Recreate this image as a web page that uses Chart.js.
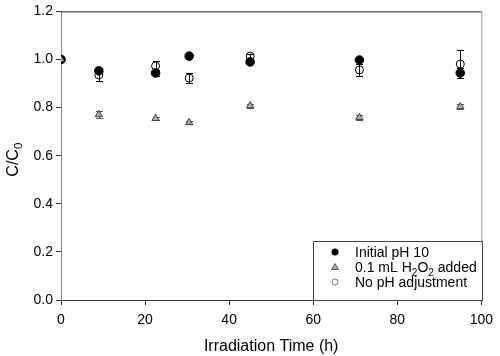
<!DOCTYPE html>
<html>
<head>
<meta charset="utf-8">
<script src="https://cdn.jsdelivr.net/npm/chart.js@4/dist/chart.umd.min.js"></script>
<style>
  body { margin: 0; background: #fff; }
  canvas { display: block; }
</style>
</head>
<body>
<canvas id="grafico" width="500" height="356"></canvas>
<script>
// ========== dados ==========
const tempos = [0, 9, 22.5, 30.5, 45, 71, 95];

const phInicial = [1.0, 0.953, 0.944, 1.014, 0.99, 0.998, 0.944];
const phInicialErro = [0, 0.006, 0.012, 0.006, 0.008, 0.01, 0.02];

const peroxido = [1.0, 0.771, 0.755, 0.738, 0.808, 0.759, 0.804];
const peroxidoErro = [0, 0.015, 0.006, 0.006, 0.008, 0.012, 0.01];

const semAjuste = [1.0, 0.936, 0.973, 0.923, 1.014, 0.957, 0.981];
const semAjusteErro = [0, 0.025, 0.02, 0.022, 0.01, 0.025, 0.058];

const ticksX = [0, 20, 40, 60, 80, 100];
const ticksY = [0, 0.2, 0.4, 0.6, 0.8, 1.0, 1.2];

function pontos(valores) {
  return tempos.map((t, i) => ({ x: t, y: valores[i] }));
}

// texto com subscrito: partes [texto, subscrito?]
function textoSub(ctx, partes, x, y, tam) {
  let cx = x;
  partes.forEach(([t, sub]) => {
    ctx.font = (sub ? tam * 0.72 : tam) + "px 'Liberation Sans', Arial, sans-serif";
    ctx.fillText(t, cx, sub ? y + tam * 0.28 : y);
    cx += ctx.measureText(t).width;
  });
  return cx - x;
}

function larguraSub(ctx, partes, tam) {
  let w = 0;
  partes.forEach(([t, sub]) => {
    ctx.font = (sub ? tam * 0.72 : tam) + "px 'Liberation Sans', Arial, sans-serif";
    w += ctx.measureText(t).width;
  });
  return w;
}

// ========== barras de erro ==========
const barrasErro = {
  id: "barrasErro",
  beforeDatasetsDraw(chart) {
    const ctx = chart.ctx;
    const sx = chart.scales.x;
    const sy = chart.scales.y;
    const series = [
      [phInicial, phInicialErro, "#000"],
      [peroxido, peroxidoErro, "#555"],
      [semAjuste, semAjusteErro, "#000"],
    ];
    ctx.save();
    ctx.lineWidth = 1;
    series.forEach(([vals, errs, cor]) => {
      ctx.strokeStyle = cor;
      vals.forEach((v, i) => {
        if (!errs[i]) return;
        const px = Math.round(sx.getPixelForValue(tempos[i])) + 0.5;
        const y1 = sy.getPixelForValue(v - errs[i]);
        const y2 = sy.getPixelForValue(v + errs[i]);
        ctx.beginPath();
        ctx.moveTo(px, y1);
        ctx.lineTo(px, y2);
        ctx.moveTo(px - 3.5, Math.round(y1) + 0.5);
        ctx.lineTo(px + 3.5, Math.round(y1) + 0.5);
        ctx.moveTo(px - 3.5, Math.round(y2) + 0.5);
        ctx.lineTo(px + 3.5, Math.round(y2) + 0.5);
        ctx.stroke();
      });
    });
    ctx.restore();
  },
};

// ========== moldura, titulos e legenda ==========
const moldura = {
  id: "moldura",
  afterDraw(chart) {
    const ctx = chart.ctx;
    const a = chart.chartArea;
    ctx.save();
    ctx.lineWidth = 1;
    ctx.strokeStyle = "#222";
    ctx.beginPath();
    ctx.moveTo(a.left, a.top + 0.5);
    ctx.lineTo(a.right, a.top + 0.5);
    ctx.stroke();
    ctx.strokeStyle = "#999";
    ctx.beginPath();
    ctx.moveTo(a.right + 0.5, a.top);
    ctx.lineTo(a.right + 0.5, a.bottom);
    ctx.stroke();

    ctx.fillStyle = "#000";
    ctx.textBaseline = "alphabetic";

    // titulo x
    ctx.font = "16px 'Liberation Sans', Arial, sans-serif";
    ctx.textAlign = "center";
    ctx.fillText("Irradiation Time (h)", (a.left + a.right) / 2, 351);

    // titulo y
    ctx.textAlign = "left";
    const partesY = [["C/C", false], ["0", true]];
    const wY = larguraSub(ctx, partesY, 16);
    ctx.save();
    ctx.translate(18, (a.top + a.bottom) / 2 + wY / 2 + 4);
    ctx.rotate(-Math.PI / 2);
    textoSub(ctx, partesY, 0, 0, 16);
    ctx.restore();

    // legenda
    const lx = 313, ly = 241, lw = 169, lh = 59;
    ctx.fillStyle = "#fff";
    ctx.fillRect(lx, ly, lw, lh);
    ctx.strokeStyle = "#444";
    ctx.strokeRect(lx + 0.5, ly + 0.5, lw, lh);

    const linhas = [
      { y: 252, partes: [["Initial pH 10", false]], tipo: "pretoCirc" },
      { y: 267, partes: [["0.1 mL H", false], ["2", true], ["O", false], ["2", true], [" added", false]], tipo: "tri" },
      { y: 282, partes: [["No pH adjustment", false]], tipo: "abertoCirc" },
    ];
    linhas.forEach((l) => {
      const mx = 335;
      ctx.lineWidth = 1;
      if (l.tipo === "pretoCirc") {
        ctx.fillStyle = "#000";
        ctx.beginPath();
        ctx.arc(mx, l.y, 3.5, 0, Math.PI * 2);
        ctx.fill();
      } else if (l.tipo === "tri") {
        ctx.fillStyle = "#aaa";
        ctx.strokeStyle = "#555";
        ctx.beginPath();
        ctx.moveTo(mx, l.y - 3.5);
        ctx.lineTo(mx + 3.5, l.y + 2.5);
        ctx.lineTo(mx - 3.5, l.y + 2.5);
        ctx.closePath();
        ctx.fill();
        ctx.stroke();
      } else {
        ctx.strokeStyle = "#777";
        ctx.beginPath();
        ctx.arc(mx, l.y, 3, 0, Math.PI * 2);
        ctx.stroke();
      }
      ctx.fillStyle = "#000";
      ctx.textAlign = "left";
      textoSub(ctx, l.partes, 355, l.y + 5, 14);
    });
    ctx.restore();
  },
};

// ========== grafico ==========
const ctx = document.getElementById("grafico").getContext("2d");
let myChart = new Chart(ctx, {
  type: "scatter",
  data: {
    datasets: [
      {
        label: "No pH adjustment",
        data: pontos(semAjuste),
        pointStyle: "circle",
        pointRadius: 4,
        backgroundColor: "rgba(255,255,255,0)",
        borderColor: "#000",
        borderWidth: 1,
        order: 1,
      },
      {
        label: "0.1 mL H2O2 added",
        data: pontos(peroxido),
        pointStyle: "triangle",
        pointRadius: 4.2,
        backgroundColor: "#a8a8a8",
        borderColor: "#444",
        borderWidth: 1,
        order: 2,
      },
      {
        label: "Initial pH 10",
        data: pontos(phInicial),
        pointStyle: "circle",
        pointRadius: 4.3,
        backgroundColor: "#000",
        borderColor: "#000",
        borderWidth: 1,
        order: 3,
      },
    ],
  },
  options: {
    responsive: false,
    animation: false,
    layout: { padding: { top: 9, right: 18, left: 0, bottom: 0 } },
    plugins: {
      legend: { display: false },
      tooltip: { enabled: false },
    },
    scales: {
      x: {
        type: "linear",
        min: 0,
        max: 100,
        afterBuildTicks: (s) => { s.ticks = ticksX.map((v) => ({ value: v })); },
        afterFit: (s) => { s.height = 56; },
        border: { display: true, color: "#333", width: 1 },
        grid: { drawOnChartArea: false, drawTicks: true, tickLength: 5, color: "#333" },
        ticks: {
          color: "#000",
          padding: 7,
          maxRotation: 0,
          font: { family: "'Liberation Sans', Arial, sans-serif", size: 14 },
        },
      },
      y: {
        type: "linear",
        min: 0,
        max: 1.2,
        afterBuildTicks: (s) => { s.ticks = ticksY.map((v) => ({ value: v })); },
        afterFit: (s) => { s.width = 61; },
        border: { display: true, color: "#888", width: 1 },
        grid: { drawOnChartArea: false, drawTicks: true, tickLength: 5, color: "#333" },
        ticks: {
          color: "#000",
          padding: 3,
          callback: (v) => Number(v).toFixed(1),
          font: { family: "'Liberation Sans', Arial, sans-serif", size: 14 },
        },
      },
    },
  },
  plugins: [barrasErro, moldura],
});
</script>
</body>
</html>
